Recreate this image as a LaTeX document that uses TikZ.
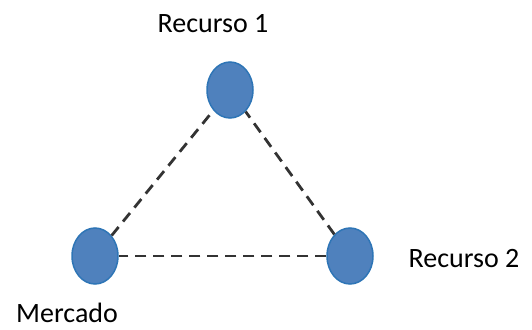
\documentclass[tikz,border=0pt]{standalone}
\usepackage{fontspec}
\setmainfont{Carlito}
\usetikzlibrary{positioning, shapes.geometric}
\definecolor{nodoazul}{RGB}{79,129,189}
\definecolor{bordeazul}{RGB}{46,117,182}

\begin{document}
\begin{tikzpicture}[x=1pt, y=-1pt, rec/.style={ellipse, draw=bordeazul, line width=1.5pt, fill=nodoazul, minimum width=46pt, minimum height=56pt, inner sep=0pt}, lnk/.style={dash pattern=on 11pt off 7pt, line width=2.8pt, draw=black!80}, lbl/.style={font=\fontsize{28}{34}\selectfont, anchor=base, inner sep=0pt}]
		\useasboundingbox (0,0) rectangle (532,329);

		\node[rec] (R1) at (230,90) {};
		\node[rec] (M) at (95,256) {} edge[lnk] (R1);
		\node[rec] (R2) at (350,256) {} edge[lnk] (R1) edge[lnk] (M);

		\node[lbl] (tR1) at (213,33) {Recurso 1};
		\node[lbl] (tR2) at (464,267) {Recurso 2};
		\node[lbl] (tM) at (67,322) {Mercado};
	\end{tikzpicture}
\end{document}
